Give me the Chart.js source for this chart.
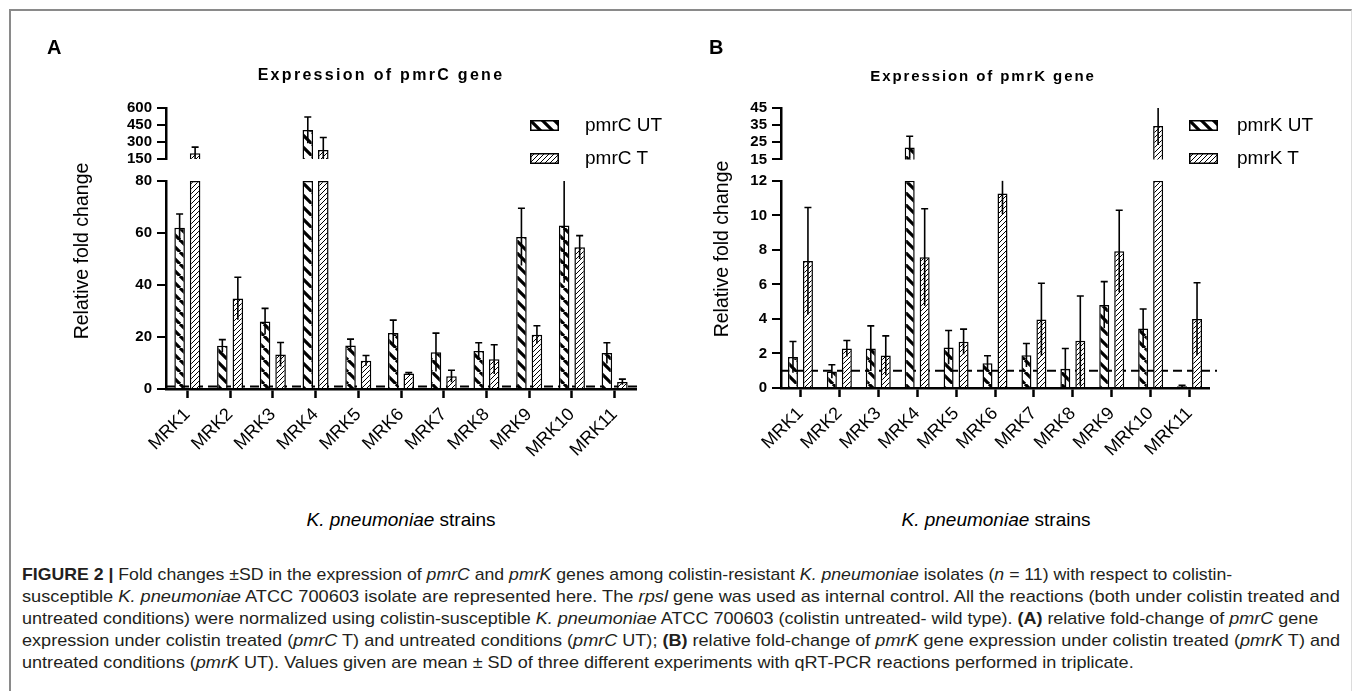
<!DOCTYPE html>
<html><head><meta charset="utf-8">
<script src="https://cdn.jsdelivr.net/npm/chart.js@4.4.0/dist/chart.umd.min.js"></script>
<style>
html,body{margin:0;padding:0;background:#fff;}
body{width:1355px;height:691px;position:relative;overflow:hidden;font-family:"Liberation Sans",Arial,sans-serif;color:#000;}
.frame{position:absolute;left:9px;top:9px;width:1343px;height:720px;border-top:2px solid #8a8a8a;border-left:2px solid #8a8a8a;border-right:1px solid #dcdcdc;box-sizing:border-box;}
canvas{position:absolute;}
.t{position:absolute;white-space:nowrap;line-height:1;}
.c{transform:translate(-50%,-50%);}
.panel{font-weight:bold;font-size:20px;}
.title{font-weight:bold;font-size:16px;letter-spacing:2.3px;}
.titleB{font-size:15px;letter-spacing:1.9px;}
.ytitle{font-size:19.5px;transform:translate(-50%,-50%) rotate(-90deg);}
.xtitle{font-size:19px;}
.leg{font-size:19px;}
.cap{position:absolute;left:22px;white-space:nowrap;font-size:17px;line-height:22px;color:#231f20;transform-origin:0 50%;}
</style>
</head><body>
<div class="frame"></div>
<canvas id="cA" width="677" height="480" style="left:0;top:0"></canvas>
<canvas id="cB" width="678" height="480" style="left:677px;top:0"></canvas>

<div class="t panel" style="left:47px;top:37px">A</div>
<div class="t panel" style="left:709px;top:37px">B</div>
<div class="t title c" style="left:381px;top:75px">Expression of pmrC gene</div>
<div class="t title titleB c" style="left:983px;top:75px">Expression of pmrK gene</div>
<div class="t ytitle" style="left:82px;top:251px">Relative fold change</div>
<div class="t ytitle" style="left:722px;top:249px">Relative fold change</div>
<div class="t xtitle c" style="left:401px;top:519px"><i>K. pneumoniae</i> strains</div>
<div class="t xtitle c" style="left:996px;top:519px"><i>K. pneumoniae</i> strains</div>
<div id="legA"></div>
<div id="legB"></div>

<div id="caption">
<div class="cap" style="top:564px"><b>FIGURE 2 |</b> Fold changes ±SD in the expression of <i>pmrC</i> and <i>pmrK</i> genes among colistin-resistant <i>K. pneumoniae</i> isolates (<i>n</i> = 11) with respect to colistin-</div>
<div class="cap" style="top:586px">susceptible <i>K. pneumoniae</i> ATCC 700603 isolate are represented here. The <i>rpsl</i> gene was used as internal control. All the reactions (both under colistin treated and</div>
<div class="cap" style="top:608px">untreated conditions) were normalized using colistin-susceptible <i>K. pneumoniae</i> ATCC 700603 (colistin untreated- wild type). <b>(A)</b> relative fold-change of <i>pmrC</i> gene</div>
<div class="cap" style="top:630px">expression under colistin treated (<i>pmrC</i> T) and untreated conditions (<i>pmrC</i> UT); <b>(B)</b> relative fold-change of <i>pmrK</i> gene expression under colistin treated (<i>pmrK</i> T) and</div>
<div class="cap" style="top:652px">untreated conditions (<i>pmrK</i> UT). Values given are mean ± SD of three different experiments with qRT-PCR reactions performed in triplicate.</div>
</div>

<script>
// ---------------- DATA ----------------
const strains = ['MRK1','MRK2','MRK3','MRK4','MRK5','MRK6','MRK7','MRK8','MRK9','MRK10','MRK11'];

const pmrCNames = ['pmrC UT', 'pmrC T'];
const pmrC_UT_mean = [62, 16.6, 26, 405, 16.7, 21.5, 14.1, 14.6, 58.5, 62.9, 13.8];
const pmrC_UT_sd   = [5.3, 2.4, 5, 116, 2.5, 5, 7.4, 3.2, 11, 22, 4];
const pmrC_T_mean  = [200, 34.8, 13.3, 230, 10.9, 6.0, 4.9, 11.4, 20.9, 54.5, 2.7];
const pmrC_T_sd    = [55, 8.2, 4.6, 110, 2, 0.3, 2.3, 5.6, 3.4, 4.5, 1.1];
const pmrC_lowTicks  = [0, 20, 40, 60, 80];
const pmrC_highTicks = [150, 300, 450, 600];

const pmrKNames = ['pmrK UT', 'pmrK T'];
const pmrK_UT_mean = [1.79, 0.96, 2.29, 22, 2.35, 1.44, 1.9, 1.12, 4.81, 3.45, 0.1];
const pmrK_UT_sd   = [0.9, 0.39, 1.31, 6.5, 0.98, 0.43, 0.68, 1.17, 1.35, 1.13, 0.05];
const pmrK_T_mean  = [7.36, 2.29, 1.88, 7.57, 2.68, 11.27, 3.97, 2.73, 7.92, 34.5, 4.0];
const pmrK_T_sd    = [3.1, 0.46, 1.14, 2.81, 0.73, 1.2, 2.1, 2.6, 2.38, 11, 2.1];
const pmrK_lowTicks  = [0, 2, 4, 6, 8, 10, 12];
const pmrK_highTicks = [15, 25, 35, 45];

const referenceLevel = 1;

// ---------------- STYLE HELPERS ----------------
const FONT = '"Liberation Sans", Arial, sans-serif';
function hatchCanvas(size, lw, dir) {
  const c = document.createElement('canvas');
  c.width = c.height = size;
  const g = c.getContext('2d');
  g.fillStyle = '#fff'; g.fillRect(0, 0, size, size);
  g.strokeStyle = '#000'; g.lineWidth = lw;
  g.beginPath();
  for (let k = -1; k <= 1; k++) {
    if (dir === '\\') { g.moveTo(k * size, 0); g.lineTo(k * size + size, size); }
    else { g.moveTo(k * size, size); g.lineTo(k * size + size, 0); }
  }
  g.stroke();
  return c;
}
const pctx = document.createElement('canvas').getContext('2d');
const patUT = pctx.createPattern(hatchCanvas(12, 3.2, '\\'), 'repeat');
const patT  = pctx.createPattern(hatchCanvas(5, 1, '/'), 'repeat');

const errorBars = {
  id: 'errorBars',
  afterDatasetsDraw(chart) {
    const ctx = chart.ctx;
    chart.data.datasets.forEach((ds, i) => {
      const meta = chart.getDatasetMeta(i);
      const ys = chart.scales[ds.yAxisID];
      meta.data.forEach((bar, j) => {
        if (ds.data[j] === null || ds.data[j] === undefined) return;
        const m = ds.mean[j], sd = ds.sd[j];
        if (m > ys.max || m < ys.min) return;
        const top = m + sd, bot = Math.max(m - sd, ys.min);
        const topC = Math.min(top, ys.max);
        const x = bar.x;
        ctx.save();
        ctx.strokeStyle = '#000'; ctx.lineWidth = 1.6;
        ctx.beginPath();
        ctx.moveTo(x, ys.getPixelForValue(bot));
        ctx.lineTo(x, ys.getPixelForValue(topC));
        if (top <= ys.max) {
          const y = ys.getPixelForValue(top);
          ctx.moveTo(x - 3.5, y); ctx.lineTo(x + 3.5, y);
        }
        ctx.stroke();
        ctx.restore();
      });
    });
  }
};
const refLine = {
  id: 'refLine',
  beforeDatasetsDraw(chart, args, opts) {
    const ys = chart.scales.yLow;
    const y = ys.getPixelForValue(opts.value);
    const ctx = chart.ctx;
    ctx.save();
    ctx.strokeStyle = '#000'; ctx.lineWidth = 2;
    ctx.setLineDash([9, 5]);
    ctx.beginPath();
    ctx.moveTo(chart.chartArea.left, y);
    ctx.lineTo(chart.chartArea.right + opts.extend, y);
    ctx.stroke();
    ctx.restore();
  }
};

function makePanel(id, p) {
  const lowMax = p.lowTicks[p.lowTicks.length - 1];
  const clipLow = a => a.map(v => Math.min(v, lowMax));
  const onlyHigh = a => a.map(v => (v > lowMax ? v : null));
  const barStyle = (pat) => ({
    backgroundColor: pat, borderColor: '#000', borderWidth: 1.5,
    categoryPercentage: p.catPct, barPercentage: p.barPct
  });
  const datasets = [
    Object.assign({ label: p.names[0], stack: 'UT', yAxisID: 'yLow',  data: clipLow(p.utMean), mean: p.utMean, sd: p.utSd }, barStyle(patUT)),
    Object.assign({ label: p.names[1], stack: 'T',  yAxisID: 'yLow',  data: clipLow(p.tMean),  mean: p.tMean,  sd: p.tSd  }, barStyle(patT)),
    Object.assign({ label: p.names[0], stack: 'UT', yAxisID: 'yHigh', data: onlyHigh(p.utMean), mean: p.utMean, sd: p.utSd }, barStyle(patUT)),
    Object.assign({ label: p.names[1], stack: 'T',  yAxisID: 'yHigh', data: onlyHigh(p.tMean),  mean: p.tMean,  sd: p.tSd  }, barStyle(patT)),
  ];
  const yAxis = (ticksArr, weight, stackWeight) => ({
    type: 'linear', position: 'left', stack: 'v', stackWeight: stackWeight, weight: weight,
    stacked: false,
    min: ticksArr[0], max: ticksArr[ticksArr.length - 1],
    afterBuildTicks: s => { s.ticks = ticksArr.map(v => ({ value: v })); },
    afterFit: s => { s.width = 60; },
    grid: { display: true, drawOnChartArea: false, drawTicks: true, color: '#000', tickLength: 9, tickWidth: 2, lineWidth: 2 },
    border: { display: true, color: '#000', width: 2.5 },
    ticks: { color: '#000', padding: 5, autoSkip: false, font: { family: FONT, size: 15, weight: 'bold' } }
  });
  return new Chart(document.getElementById(id), {
    type: 'bar',
    data: { labels: strains, datasets },
    options: {
      responsive: false, animation: false, devicePixelRatio: 1,
      layout: { padding: p.padding },
      plugins: { legend: { display: false }, tooltip: { enabled: false }, title: { display: false },
                 refLine: { value: referenceLevel, extend: p.dashExtend } },
      scales: {
        x: {
          type: 'category', offset: true,
          afterFit: s => { s.height = 80; },
          grid: { display: true, offset: false, drawOnChartArea: false, drawTicks: true, color: '#000', tickLength: 9, tickWidth: 2.5 },
          border: { display: true, color: '#000', width: 2.5 },
          ticks: { color: '#000', autoSkip: false, minRotation: 45, maxRotation: 45, padding: 6, font: { family: FONT, size: 18 } }
        },
        yHigh: yAxis(p.highTicks, 3, p.weights[0]),
        yGap: {
          type: 'linear', position: 'left', stack: 'v', stackWeight: p.weights[1], weight: 2,
          afterFit: s => { s.width = 60; },
          grid: { display: false }, border: { display: false }, ticks: { display: false }
        },
        yLow: yAxis(p.lowTicks, 1, p.weights[2])
      }
    },
    plugins: [refLine, errorBars]
  });
}

makePanel('cA', {
  names: pmrCNames, utMean: pmrC_UT_mean, utSd: pmrC_UT_sd, tMean: pmrC_T_mean, tSd: pmrC_T_sd,
  lowTicks: pmrC_lowTicks, highTicks: pmrC_highTicks,
  padding: { left: 106, right: 41, top: 108, bottom: 11 },
  weights: [51, 22, 208], catPct: 0.7255, barPct: 0.68, dashExtend: 5
});
makePanel('cB', {
  names: pmrKNames, utMean: pmrK_UT_mean, utSd: pmrK_UT_sd, tMean: pmrK_T_mean, tSd: pmrK_T_sd,
  lowTicks: pmrK_lowTicks, highTicks: pmrK_highTicks,
  padding: { left: 44, right: 146, top: 108, bottom: 12 },
  weights: [51.6, 21.4, 207.6], catPct: 0.77, barPct: 0.667, dashExtend: 8
});

// ---------------- LEGENDS ----------------
function legend(el, names, x, swX, ys) {
  const pats = [hatchCanvas(12, 3.2, '\\'), hatchCanvas(5, 1, '/')];
  names.forEach((n, i) => {
    const c = document.createElement('canvas');
    c.width = 29; c.height = 11;
    c.style.left = swX + 'px'; c.style.top = (ys[i] - 5.5) + 'px';
    const g = c.getContext('2d');
    g.fillStyle = g.createPattern(pats[i], 'repeat');
    g.fillRect(0, 0, 29, 11);
    g.strokeStyle = '#000'; g.lineWidth = 1.5; g.strokeRect(0.75, 0.75, 27.5, 9.5);
    el.appendChild(c);
    const t = document.createElement('div');
    t.className = 't leg';
    t.style.left = x + 'px'; t.style.top = (ys[i] - 10) + 'px';
    t.textContent = n;
    el.appendChild(t);
  });
}
legend(document.getElementById('legA'), pmrCNames, 585, 530, [125, 158]);
legend(document.getElementById('legB'), pmrKNames, 1237, 1189, [125, 158]);

// fit caption lines to their measured widths in the figure
const capTargets = [1210, 1318, 1296, 1318, null];
const caps = document.querySelectorAll('.cap');
let lastK = 1;
caps.forEach((c, i) => {
  const k = capTargets[i] ? capTargets[i] / c.scrollWidth : lastK;
  lastK = k;
  c.style.transform = 'scaleX(' + k + ')';
});
</script>
</body></html>
